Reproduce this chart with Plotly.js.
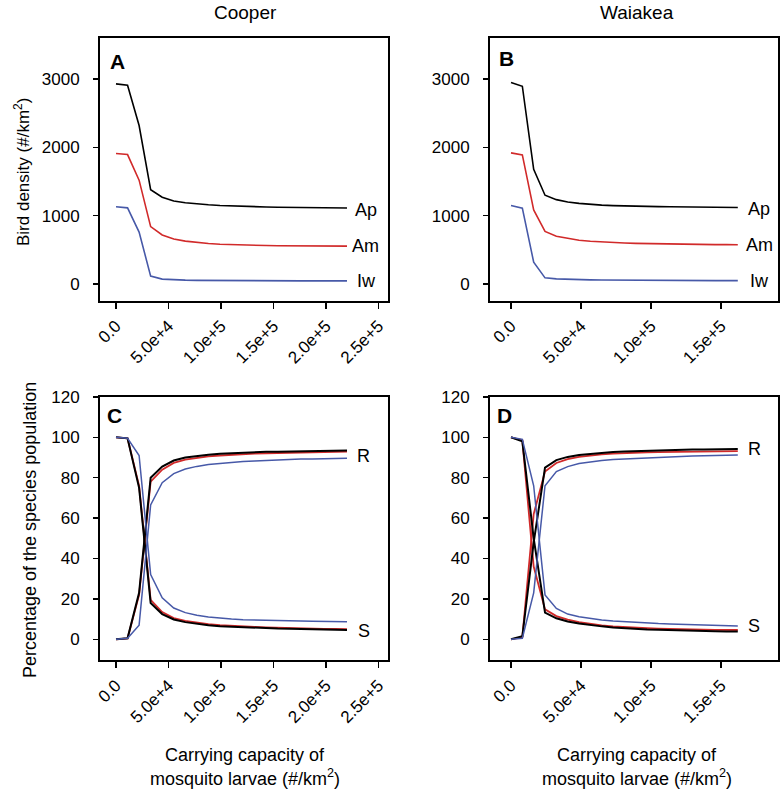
<!DOCTYPE html>
<html>
<head>
<meta charset="utf-8">
<script src="https://cdn.plot.ly/plotly-3.0.1.min.js"></script>
<style>html,body{margin:0;padding:0;background:#fff;}#chart{width:784px;height:794px;}</style>
</head>
<body>
<div id="chart"></div>
<script>
// ---- Data ----
const xCooper = [0,11000,22000,33000,44000,55000,66000,77000,88000,99000,110000,121000,132000,143000,154000,165000,176000,187000,198000,209000,220000];
const xWaiakea = [0,8100,16200,24300,32400,40500,48600,56700,64800,72900,81000,89100,97200,105300,113400,121500,129600,137700,145800,153900,162000];

// Panel A: Cooper bird density
const cooperAp = [2930,2910,2320,1380,1270,1215,1190,1172,1160,1150,1142,1136,1131,1127,1124,1121,1119,1117,1115,1113,1112];
const cooperAm = [1910,1895,1520,840,718,660,628,606,592,582,575,570,566,563,561,559,558,557,556,555,555];
const cooperIw = [1130,1115,760,115,72,60,56,53,51,50,49,48,48,47,47,46,46,46,45,45,45];

// Panel B: Waiakea bird density
const waiakeaAp = [2950,2895,1680,1300,1235,1200,1180,1165,1155,1148,1142,1138,1135,1132,1130,1128,1126,1124,1122,1121,1120];
const waiakeaAm = [1920,1890,1085,770,700,665,640,625,614,606,600,595,591,588,585,583,581,579,577,576,575];
const waiakeaIw = [1150,1110,320,90,75,68,64,61,59,57,56,55,54,53,52,52,51,51,50,50,50];

// Panel C: Cooper % susceptible (S) and recovered (R)
const cooperApS = [100,99.5,75,18,12.5,9.8,8.5,7.6,7.0,6.5,6.2,5.9,5.7,5.5,5.3,5.2,5.0,4.9,4.8,4.7,4.6];
const cooperApR = [0,0.5,23,80,85.5,88.5,90,90.8,91.4,91.8,92.1,92.4,92.6,92.8,92.9,93.0,93.1,93.2,93.3,93.4,93.5];
const cooperAmS = [100,99.5,76,19.5,13.5,10.5,9.1,8.2,7.5,7.0,6.6,6.3,6.1,5.9,5.7,5.6,5.4,5.3,5.2,5.1,5.0];
const cooperAmR = [0,0.5,22,78,84,87.3,89,89.9,90.6,91.0,91.4,91.7,91.9,92.1,92.3,92.4,92.5,92.6,92.7,92.8,92.9];
const cooperIwS = [100,99.5,91,32,20.5,15.5,13.2,11.9,11.0,10.4,10.0,9.7,9.5,9.3,9.2,9.1,9.0,8.9,8.8,8.7,8.7];
const cooperIwR = [0,0.5,7,66.5,77.5,82,84.3,85.6,86.5,87.1,87.6,88.0,88.3,88.6,88.8,89.0,89.2,89.3,89.4,89.5,89.6];

// Panel D: Waiakea % susceptible (S) and recovered (R)
const waiakeaApS = [100,98,50,13.2,10.4,8.8,7.8,7.0,6.4,5.9,5.5,5.2,4.9,4.7,4.5,4.4,4.2,4.1,4.0,3.9,3.8];
const waiakeaApR = [0,1.5,48,85,88.7,90.3,91.2,91.8,92.3,92.7,93.0,93.2,93.4,93.6,93.7,93.8,93.9,94.0,94.1,94.2,94.2];
const waiakeaAmS = [100,98.5,36,14.8,11.5,9.7,8.5,7.6,6.9,6.4,6.0,5.7,5.5,5.3,5.1,5.0,4.9,4.8,4.7,4.6,4.6];
const waiakeaAmR = [0,1,62,83,87.3,89.2,90.3,91.0,91.5,91.9,92.2,92.4,92.6,92.7,92.8,92.9,93.0,93.1,93.1,93.2,93.2];
const waiakeaIwS = [100,99,76,22,15.3,12.5,11.2,10.3,9.6,9.1,8.7,8.4,8.1,7.8,7.6,7.4,7.2,7.0,6.9,6.7,6.6];
const waiakeaIwR = [0,0.5,23,76,83,85.5,87,87.9,88.5,89.0,89.3,89.6,89.9,90.1,90.3,90.5,90.7,90.8,91.0,91.1,91.2];

const xTickValsC = [0,50000,100000,150000,200000,250000];
const xTickTextC = ['0.0','5.0e+4','1.0e+5','1.5e+5','2.0e+5','2.5e+5'];
const xTickValsW = [0,50000,100000,150000];
const xTickTextW = ['0.0','5.0e+4','1.0e+5','1.5e+5'];
const densityTicks = [0,1000,2000,3000];
const pctTicks = [0,20,40,60,80,100,120];

// ---- Styles ----
const BLACK = '#000000', RED = '#d12a2a', BLUE = '#4759a8';
const FONT = 'Liberation Sans, Arial, sans-serif';
const W = 784, H = 794;

function tr(x, y, color, xa, ya, width) {
  return {x: x, y: y, type: 'scatter', mode: 'lines', xaxis: xa, yaxis: ya,
          line: {color: color, width: width || 1.6}, hoverinfo: 'skip', showlegend: false};
}

const traces = [
  tr(xCooper, cooperIw, BLUE, 'x', 'y'),
  tr(xCooper, cooperAm, RED, 'x', 'y'),
  tr(xCooper, cooperAp, BLACK, 'x', 'y'),
  tr(xWaiakea, waiakeaIw, BLUE, 'x2', 'y2'),
  tr(xWaiakea, waiakeaAm, RED, 'x2', 'y2'),
  tr(xWaiakea, waiakeaAp, BLACK, 'x2', 'y2'),

  tr(xCooper, cooperAmS, RED, 'x3', 'y3', 1.8),
  tr(xCooper, cooperAmR, RED, 'x3', 'y3', 1.8),
  tr(xCooper, cooperApS, BLACK, 'x3', 'y3', 2),
  tr(xCooper, cooperApR, BLACK, 'x3', 'y3', 2),
  tr(xCooper, cooperIwS, BLUE, 'x3', 'y3', 1.5),
  tr(xCooper, cooperIwR, BLUE, 'x3', 'y3', 1.5),

  tr(xWaiakea, waiakeaAmS, RED, 'x4', 'y4', 1.8),
  tr(xWaiakea, waiakeaAmR, RED, 'x4', 'y4', 1.8),
  tr(xWaiakea, waiakeaApS, BLACK, 'x4', 'y4', 2),
  tr(xWaiakea, waiakeaApR, BLACK, 'x4', 'y4', 2),
  tr(xWaiakea, waiakeaIwS, BLUE, 'x4', 'y4', 1.5),
  tr(xWaiakea, waiakeaIwR, BLUE, 'x4', 'y4', 1.5)
];

function px2x(p) { return p / W; }
function py2y(p) { return 1 - p / H; }

const baseAxis = {
  showline: true, mirror: true, linecolor: '#000', linewidth: 2,
  showgrid: false, zeroline: false, ticks: 'outside', ticklen: 6, tickwidth: 1.5,
  tickcolor: '#000', tickfont: {family: FONT, size: 17, color: '#000'}, fixedrange: true
};
function xAxis(domain, range, vals, text, anchor) {
  return Object.assign({}, baseAxis, {domain: domain, range: range, tickmode: 'array',
    tickvals: vals, ticktext: text, tickangle: -45, anchor: anchor, ticklabelstandoff: 1});
}
function yAxis(domain, range, vals, anchor) {
  return Object.assign({}, baseAxis, {domain: domain, range: range, tickmode: 'array',
    tickvals: vals, ticktext: vals.map(String), anchor: anchor, ticklen: 5, ticklabelstandoff: 10});
}

const colA = [px2x(100), px2x(387.7)];
const colB = [px2x(490), px2x(777.7)];
const rowTop = [py2y(300.5), py2y(38.3)];
const rowBot = [py2y(660), py2y(396.7)];

function f(size, bold) { return {family: FONT, size: size, color: '#000'}; }
function ann(text, x, y, xref, yref, extra) {
  return Object.assign({text: text, x: x, y: y, xref: xref, yref: yref, showarrow: false, font: f(18)}, extra || {});
}
const last = a => a[a.length - 1];
const mid = {xanchor: 'center', yanchor: 'middle'};

const annotations = [
  ann('Cooper', px2x(245), py2y(12), 'paper', 'paper', Object.assign({font: f(19)}, mid)),
  ann('Waiakea', px2x(637), py2y(12), 'paper', 'paper', Object.assign({font: f(19)}, mid)),
  ann('Bird density (#/km<sup>2</sup>)', px2x(22), py2y(172), 'paper', 'paper', Object.assign({textangle: -90, font: f(17)}, mid)),
  ann('Percentage of the species population', px2x(30), py2y(530), 'paper', 'paper', Object.assign({textangle: -90, font: f(18)}, mid)),
  ann('Carrying capacity of', px2x(245), py2y(755), 'paper', 'paper', Object.assign({font: f(18)}, mid)),
  ann('mosquito larvae (#/km<sup>2</sup>)', px2x(245), py2y(777), 'paper', 'paper', Object.assign({font: f(18)}, mid)),
  ann('Carrying capacity of', px2x(637), py2y(755), 'paper', 'paper', Object.assign({font: f(18)}, mid)),
  ann('mosquito larvae (#/km<sup>2</sup>)', px2x(637), py2y(777), 'paper', 'paper', Object.assign({font: f(18)}, mid)),

  ann('<b>A</b>', px2x(108), py2y(48), 'paper', 'paper', {xanchor: 'left', yanchor: 'top', font: f(21)}),
  ann('<b>B</b>', px2x(497), py2y(45), 'paper', 'paper', {xanchor: 'left', yanchor: 'top', font: f(21)}),
  ann('<b>C</b>', px2x(105), py2y(402), 'paper', 'paper', {xanchor: 'left', yanchor: 'top', font: f(21)}),
  ann('<b>D</b>', px2x(495), py2y(402), 'paper', 'paper', {xanchor: 'left', yanchor: 'top', font: f(21)}),

  ann('Ap', last(xCooper), last(cooperAp), 'x', 'y', {xanchor: 'left', yanchor: 'middle', xshift: 6, yshift: -2}),
  ann('Am', last(xCooper), last(cooperAm), 'x', 'y', {xanchor: 'left', yanchor: 'middle', xshift: 3, yshift: 0}),
  ann('Iw', last(xCooper), last(cooperIw), 'x', 'y', {xanchor: 'left', yanchor: 'middle', xshift: 8, yshift: 0}),
  ann('Ap', last(xWaiakea), last(waiakeaAp), 'x2', 'y2', {xanchor: 'left', yanchor: 'middle', xshift: 8, yshift: -2}),
  ann('Am', last(xWaiakea), last(waiakeaAm), 'x2', 'y2', {xanchor: 'left', yanchor: 'middle', xshift: 6, yshift: 0}),
  ann('Iw', last(xWaiakea), last(waiakeaIw), 'x2', 'y2', {xanchor: 'left', yanchor: 'middle', xshift: 10, yshift: 0}),

  ann('R', last(xCooper), 90.8, 'x3', 'y3', {xanchor: 'left', yanchor: 'middle', xshift: 8}),
  ann('S', last(xCooper), 4.1, 'x3', 'y3', {xanchor: 'left', yanchor: 'middle', xshift: 9}),
  ann('R', last(xWaiakea), 94, 'x4', 'y4', {xanchor: 'left', yanchor: 'middle', xshift: 8}),
  ann('S', last(xWaiakea), 6.6, 'x4', 'y4', {xanchor: 'left', yanchor: 'middle', xshift: 8})
];

const layout = {
  width: W, height: H,
  margin: {l: 0, r: 0, t: 0, b: 0, pad: 0},
  paper_bgcolor: '#fff', plot_bgcolor: '#fff',
  showlegend: false,
  xaxis: xAxis(colA, [-15238, 258762], xTickValsC, xTickTextC, 'y'),
  yaxis: yAxis(rowTop, [-241.6, 3597], densityTicks, 'x'),
  xaxis2: xAxis(colB, [-15000, 190500], xTickValsW, xTickTextW, 'y2'),
  yaxis2: yAxis(rowTop, [-241.6, 3597], densityTicks, 'x2'),
  xaxis3: xAxis(colA, [-15238, 258762], xTickValsC, xTickTextC, 'y3'),
  yaxis3: yAxis(rowBot, [-10.25, 120.1], pctTicks, 'x3'),
  xaxis4: xAxis(colB, [-15000, 190500], xTickValsW, xTickTextW, 'y4'),
  yaxis4: yAxis(rowBot, [-10.25, 120.1], pctTicks, 'x4'),
  annotations: annotations
};

Plotly.newPlot('chart', traces, layout, {staticPlot: true, displayModeBar: false});
</script>
</body>
</html>
